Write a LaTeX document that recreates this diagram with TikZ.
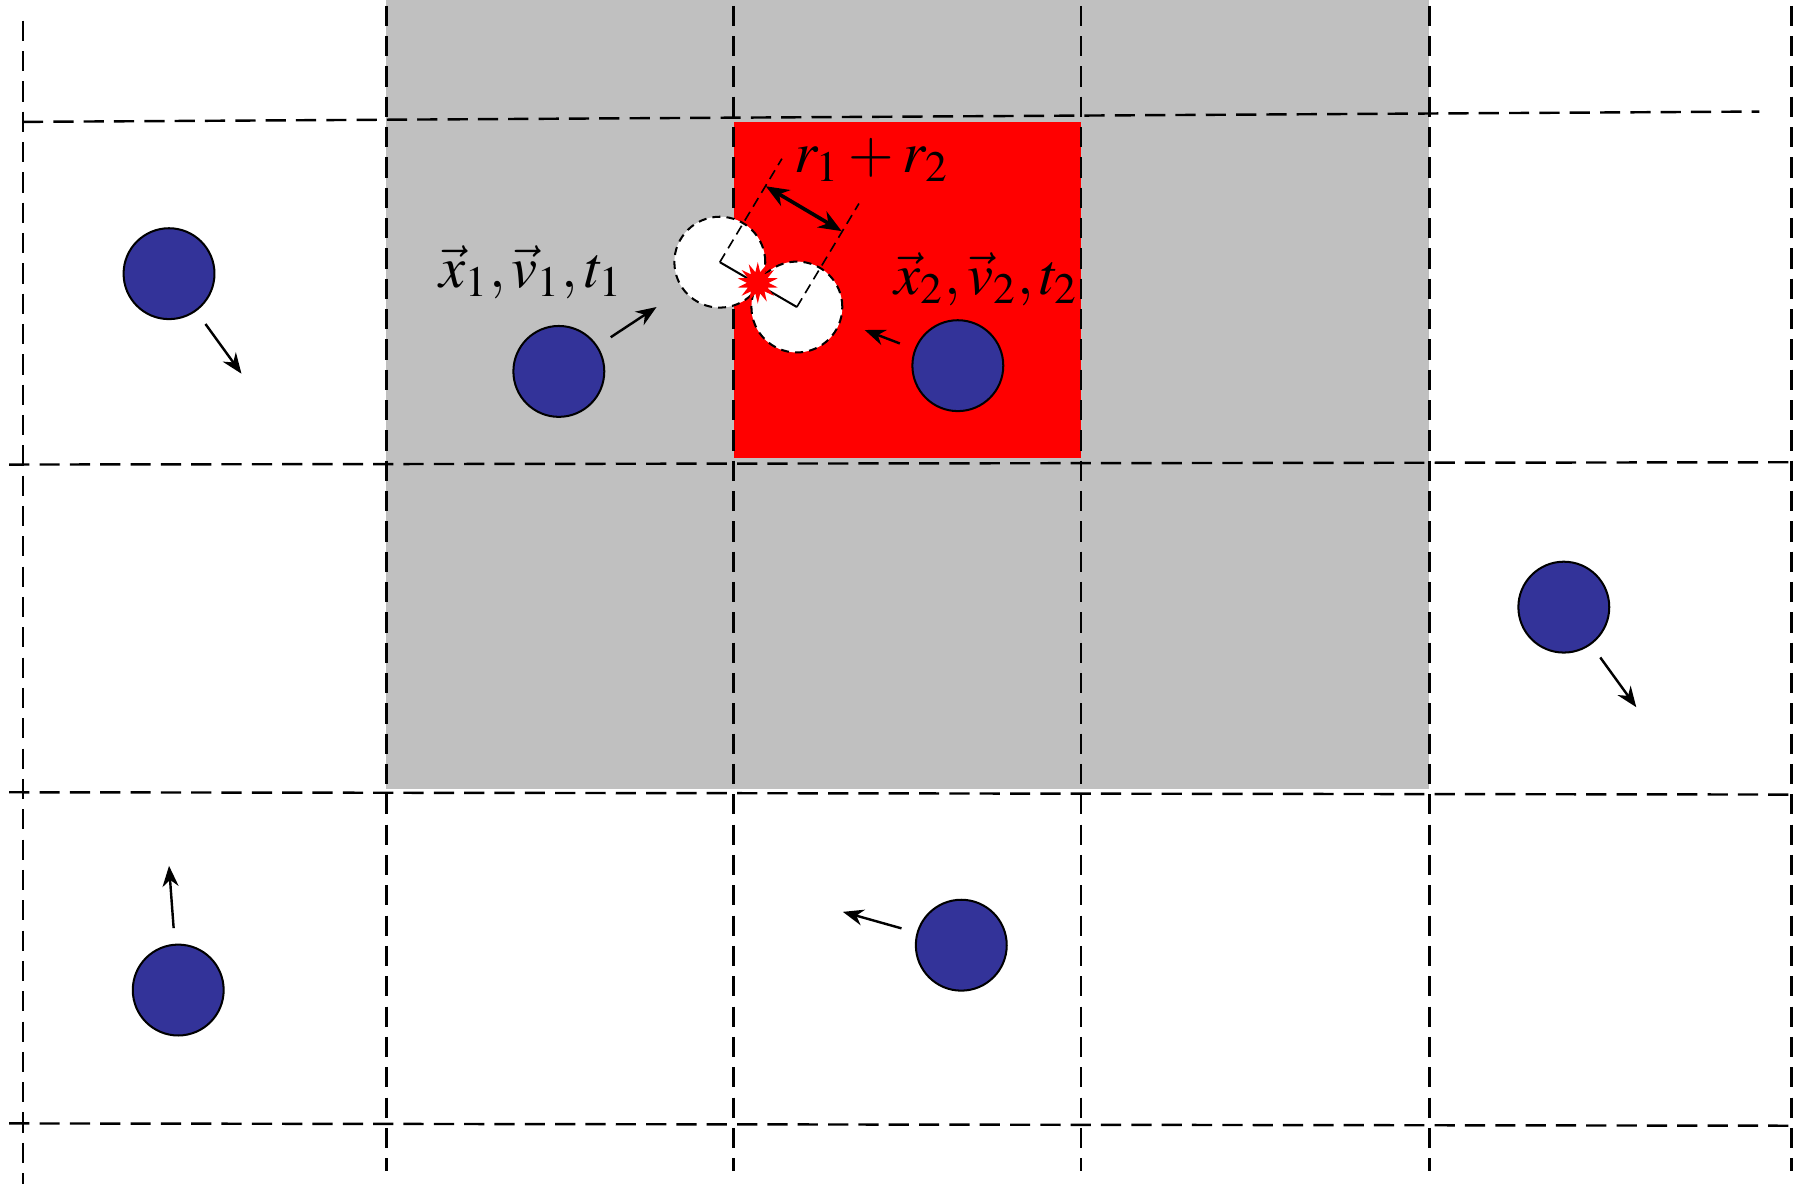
\documentclass[tikz,border=0pt]{standalone}
\usepackage{mathptmx}
\usepackage{tikz}
\usetikzlibrary{shapes.geometric, arrows.meta}
\definecolor{cellgray}{HTML}{C0C0C0}
\definecolor{hitred}{HTML}{FF0000}
\definecolor{ballblue}{HTML}{333399}
\tikzset{
  ball/.style={circle, draw=black, line width=0.5pt, fill=ballblue, minimum size=0.79cm, inner sep=0pt},
  ghost/.style={circle, draw=black, dash pattern=on 2pt off 1.5pt, line width=0.5pt, fill=white, minimum size=0.79cm, inner sep=0pt},
  gridline/.style={dash pattern=on 5pt off 2.5pt, line width=0.6pt},
  vel/.style={-{Stealth[length=1.8mm, width=1.4mm]}, line width=0.6pt, shorten <=5.4mm},
  sepline/.style={dash pattern=on 2.5pt off 1.5pt, line width=0.4pt},
  gap/.style={{Stealth[length=2mm, width=1.6mm]}-{Stealth[length=2mm, width=1.6mm]}, line width=0.9pt},
  lbl/.style={font=\fontsize{14.5}{17}\selectfont, inner sep=0pt},
  bang/.style={star, star points=14, star point ratio=1.9, fill=hitred, minimum size=0.36cm, inner sep=0pt},
}

\begin{document}
\begin{tikzpicture}[x=0.01cm, y=-0.01cm]
\useasboundingbox (0,0) rectangle (1568,1030);
% neighbour cells and the home cell
\fill[cellgray] (336,0) rectangle (1243,686);
\fill[hitred] (638,106) rectangle (940,398);
% cell grid
\foreach \gx in {336,638,940,1243,1558} \draw[gridline] (\gx,5) -- (\gx,1018);
\draw[gridline] (20,18) -- (20,1030);
\draw[gridline] (20,106) -- (1530,97);
\draw[gridline] (8,404) -- (1558,402);
\draw[gridline] (8,689) -- (1558,691);
\draw[gridline] (8,977) -- (1558,979);
% contact geometry
\node[ghost] (g1) at (626,228) {};
\node[ghost] (g2) at (693,267) {};
\coordinate (s1) at (680,138);
\coordinate (s2) at (747,177);
\coordinate (d1) at (666,162);
\coordinate (d2) at (732,201);
\draw[line width=0.5pt] (g1.center) -- (g2.center);
\draw[sepline] (g1.center) -- (s1);
\draw[sepline] (g2.center) -- (s2);
\draw[gap] (d1) -- (d2);
\node[bang] (hit) at (659,246) {};
% particles and velocities
\node[ball] (p1) at (147,238) {};
\node[ball] (p2) at (486,323) {};
\node[ball] (p3) at (833,318) {};
\node[ball] (p4) at (1360,528) {};
\node[ball] (p5) at (155,861) {};
\node[ball] (p6) at (836,822) {};
\coordinate (v1) at (210,325);
\coordinate (v2) at (571,267);
\coordinate (v3) at (752,287);
\coordinate (v4) at (1423,615);
\coordinate (v5) at (147,753);
\coordinate (v6) at (733,793);
\draw[vel] (p1.center) -- (v1);
\draw[vel] (p2.center) -- (v2);
\draw[vel] (p3.center) -- (v3);
\draw[vel] (p4.center) -- (v4);
\draw[vel] (p5.center) -- (v5);
\draw[vel] (p6.center) -- (v6);
% labels
\node[lbl] (rsum) at (758,139) {$r_1+r_2$};
\node[lbl] (st1) at (462,237) {$\vec{x}_1,\vec{v}_1,t_1$};
\node[lbl] (st2) at (858,243) {$\vec{x}_2,\vec{v}_2,t_2$};
\end{tikzpicture}
\end{document}
